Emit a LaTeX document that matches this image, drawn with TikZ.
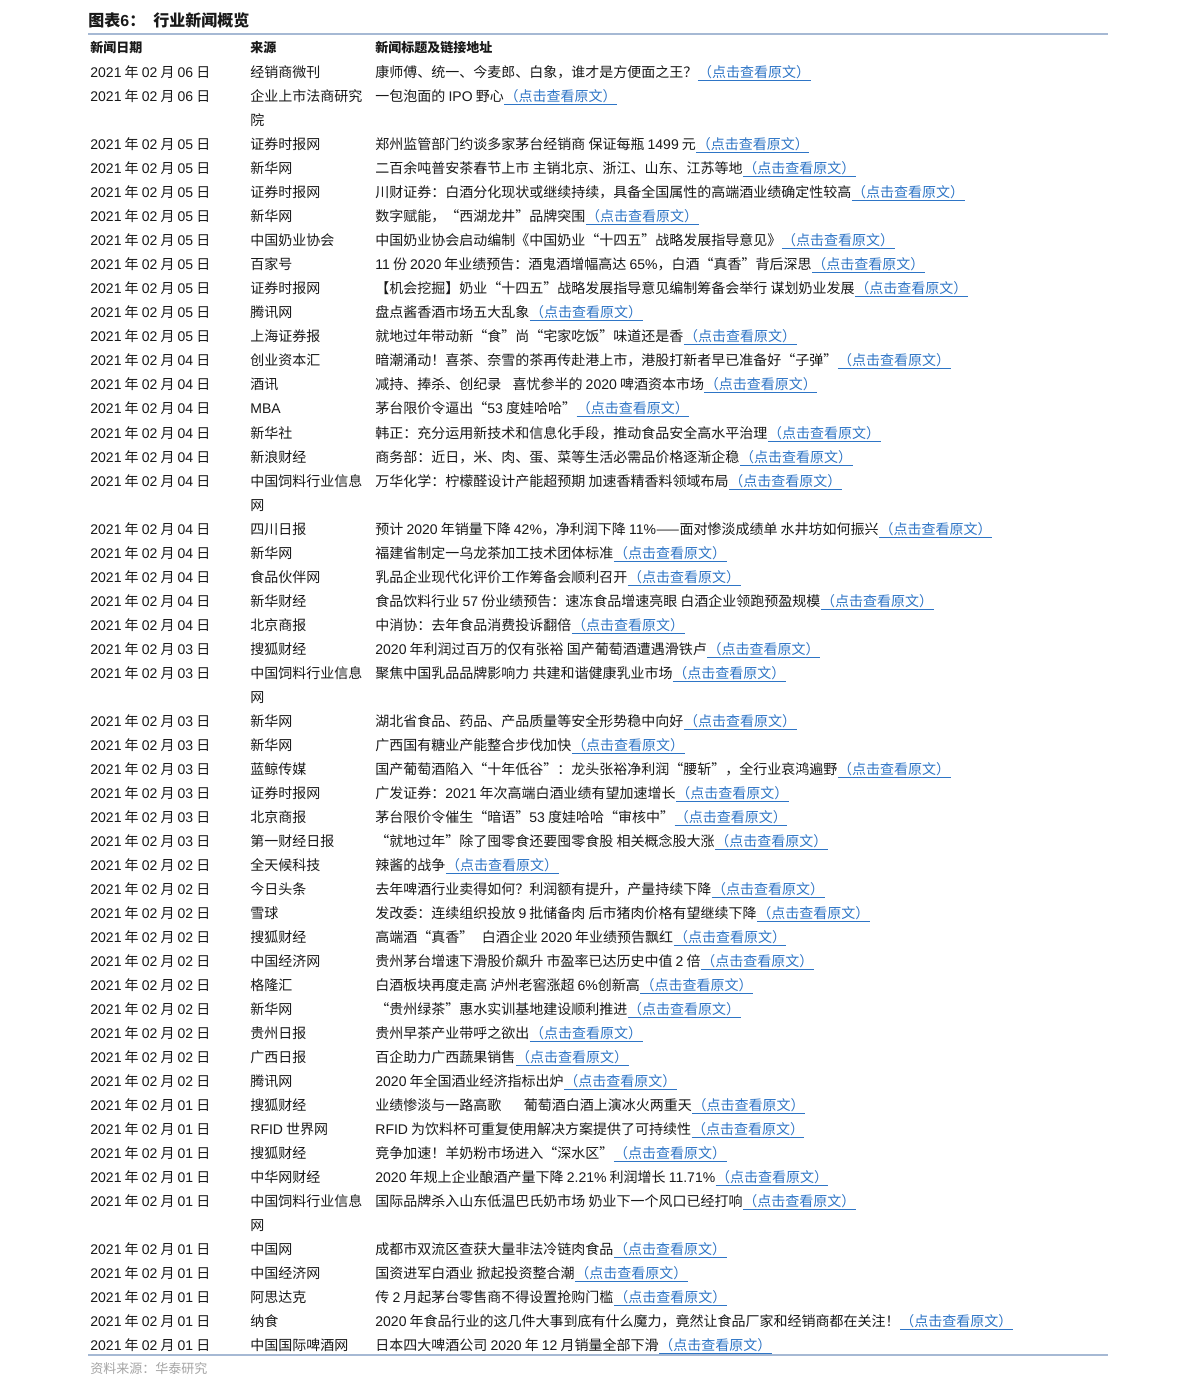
\documentclass[tikz,border=0pt]{standalone}
\usepackage{fontspec}
\setmainfont{Noto Sans CJK SC}
\newfontfamily\latinfont{Liberation Sans}
\newcommand\al[1]{{\latinfont #1}}
\usetikzlibrary{positioning}
\definecolor{linkblue}{RGB}{46,117,198}
\definecolor{rulegray}{RGB}{166,185,212}
\definecolor{notegray}{RGB}{165,165,165}
\definecolor{textblack}{RGB}{25,25,25}

\begin{document}
\begin{tikzpicture}[x=0.5pt, y=-0.5pt,
	cell/.style={inner sep=0pt, anchor=base west, text=textblack, font=\fontsize{7}{8}\selectfont},
	headcell/.style={cell, font=\fontsize{6.5}{8}\selectfont\bfseries},
	titlecell/.style={cell, font=\fontsize{8}{10}\selectfont\bfseries},
	linkcell/.style={cell, text=linkblue},
	linkline/.style={draw=linkblue, line width=0.5pt},
	rule/.style={draw=rulegray}
]
\path[fill=white] (0,0) rectangle (1191,1395);
\useasboundingbox (0,0) rectangle (1191,1395);
\node[titlecell] (fig) at (88,27) {图表\al{6}：};
\node[titlecell] (figname) at (153,27) {行业新闻概览};
\draw[rule, line width=1pt] (88,34.5) -- (1108,34.5);
\node[headcell] (hdate) at (90,53) {新闻日期};
\node[headcell] (hsrc) at (250,53) {来源};
\node[headcell] (htitle) at (375,53) {新闻标题及链接地址};
\foreach \k/\dy/\src/\ttl in {
	0/06/{经销商微刊}/{康师傅、统一、今麦郎、白象，谁才是方便面之王？},
	1/06/{企业上市法商研究}/{一包泡面的 \al{IPO} 野心},
	3/05/{证券时报网}/{郑州监管部门约谈多家茅台经销商 保证每瓶 \al{1499} 元},
	4/05/{新华网}/{二百余吨普安茶春节上市 主销北京、浙江、山东、江苏等地},
	5/05/{证券时报网}/{川财证券：白酒分化现状或继续持续，具备全国属性的高端酒业绩确定性较高},
	6/05/{新华网}/{数字赋能，“西湖龙井”品牌突围},
	7/05/{中国奶业协会}/{中国奶业协会启动编制《中国奶业“十四五”战略发展指导意见》},
	8/05/{百家号}/{\al{11} 份 \al{2020} 年业绩预告：酒鬼酒增幅高达 \al{65\%}，白酒“真香”背后深思},
	9/05/{证券时报网}/{【机会挖掘】奶业“十四五”战略发展指导意见编制筹备会举行 谋划奶业发展},
	10/05/{腾讯网}/{盘点酱香酒市场五大乱象},
	11/05/{上海证券报}/{就地过年带动新“食”尚“宅家吃饭”味道还是香},
	12/04/{创业资本汇}/{暗潮涌动！喜茶、奈雪的茶再传赴港上市，港股打新者早已准备好“子弹”},
	13/04/{酒讯}/{减持、捧杀、创纪录\hspace{0.8em}喜忧参半的 \al{2020} 啤酒资本市场},
	14/04/{\al{MBA}}/{茅台限价令逼出“\al{53} 度娃哈哈”},
	15/04/{新华社}/{韩正：充分运用新技术和信息化手段，推动食品安全高水平治理},
	16/04/{新浪财经}/{商务部：近日，米、肉、蛋、菜等生活必需品价格逐渐企稳},
	17/04/{中国饲料行业信息}/{万华化学：柠檬醛设计产能超预期 加速香精香料领域布局},
	19/04/{四川日报}/{预计 \al{2020} 年销量下降 \al{42\%}，净利润下降 \al{11\%}——面对惨淡成绩单 水井坊如何振兴},
	20/04/{新华网}/{福建省制定一乌龙茶加工技术团体标准},
	21/04/{食品伙伴网}/{乳品企业现代化评价工作筹备会顺利召开},
	22/04/{新华财经}/{食品饮料行业 \al{57} 份业绩预告：速冻食品增速亮眼 白酒企业领跑预盈规模},
	23/04/{北京商报}/{中消协：去年食品消费投诉翻倍},
	24/03/{搜狐财经}/{\al{2020} 年利润过百万的仅有张裕 国产葡萄酒遭遇滑铁卢},
	25/03/{中国饲料行业信息}/{聚焦中国乳品品牌影响力 共建和谐健康乳业市场},
	27/03/{新华网}/{湖北省食品、药品、产品质量等安全形势稳中向好},
	28/03/{新华网}/{广西国有糖业产能整合步伐加快},
	29/03/{蓝鲸传媒}/{国产葡萄酒陷入“十年低谷”：龙头张裕净利润“腰斩”，全行业哀鸿遍野},
	30/03/{证券时报网}/{广发证券：\al{2021} 年次高端白酒业绩有望加速增长},
	31/03/{北京商报}/{茅台限价令催生“暗语”\al{53} 度娃哈哈“审核中”},
	32/03/{第一财经日报}/{“就地过年”除了囤零食还要囤零食股 相关概念股大涨},
	33/02/{全天候科技}/{辣酱的战争},
	34/02/{今日头条}/{去年啤酒行业卖得如何？利润额有提升，产量持续下降},
	35/02/{雪球}/{发改委：连续组织投放 \al{9} 批储备肉 后市猪肉价格有望继续下降},
	36/02/{搜狐财经}/{高端酒“真香”\hspace{0.6em}白酒企业 \al{2020} 年业绩预告飘红},
	37/02/{中国经济网}/{贵州茅台增速下滑股价飙升 市盈率已达历史中值 \al{2} 倍},
	38/02/{格隆汇}/{白酒板块再度走高 泸州老窖涨超 \al{6\%}创新高},
	39/02/{新华网}/{“贵州绿茶”惠水实训基地建设顺利推进},
	40/02/{贵州日报}/{贵州早茶产业带呼之欲出},
	41/02/{广西日报}/{百企助力广西蔬果销售},
	42/02/{腾讯网}/{\al{2020} 年全国酒业经济指标出炉},
	43/01/{搜狐财经}/{业绩惨淡与一路高歌\hspace{1.6em}葡萄酒白酒上演冰火两重天},
	44/01/{\al{RFID} 世界网}/{\al{RFID} 为饮料杯可重复使用解决方案提供了可持续性},
	45/01/{搜狐财经}/{竞争加速！羊奶粉市场进入“深水区”},
	46/01/{中华网财经}/{\al{2020} 年规上企业酿酒产量下降 \al{2.21\%} 利润增长 \al{11.71\%}},
	47/01/{中国饲料行业信息}/{国际品牌杀入山东低温巴氏奶市场 奶业下一个风口已经打响},
	49/01/{中国网}/{成都市双流区查获大量非法冷链肉食品},
	50/01/{中国经济网}/{国资进军白酒业 掀起投资整合潮},
	51/01/{阿思达克}/{传 \al{2} 月起茅台零售商不得设置抢购门槛},
	52/01/{纳食}/{\al{2020} 年食品行业的这几件大事到底有什么魔力，竟然让食品厂家和经销商都在关注！},
	53/01/{中国国际啤酒网}/{日本四大啤酒公司 \al{2020} 年 \al{12} 月销量全部下滑}}{
	\node[cell] (d\k) at (90,{78+24*\k}) {\al{2021} 年 \al{02} 月 \al{\dy} 日};
	\node[cell] (s\k) at (250,{78+24*\k}) {\src};
	\node[cell] (t\k) at (375,{78+24*\k}) {\ttl};
	\node[linkcell] (l\k) at (t\k.base east) {（点击查看原文）};
	\draw[linkline] ([yshift=-1.5pt]l\k.base west) -- ([yshift=-1.5pt]l\k.base east);
}
\node[cell] (s2) at ([yshift=-12pt]s1.base west) {院};
\node[cell] (s18) at ([yshift=-12pt]s17.base west) {网};
\node[cell] (s26) at ([yshift=-12pt]s25.base west) {网};
\node[cell] (s48) at ([yshift=-12pt]s47.base west) {网};
\draw[rule, line width=0.75pt] (88,1355) -- (1108,1355);
\node[cell, text=notegray, font=\fontsize{6.5}{8}\selectfont] (note) at (90,1373) {资料来源：华泰研究};
\end{tikzpicture}
\end{document}
